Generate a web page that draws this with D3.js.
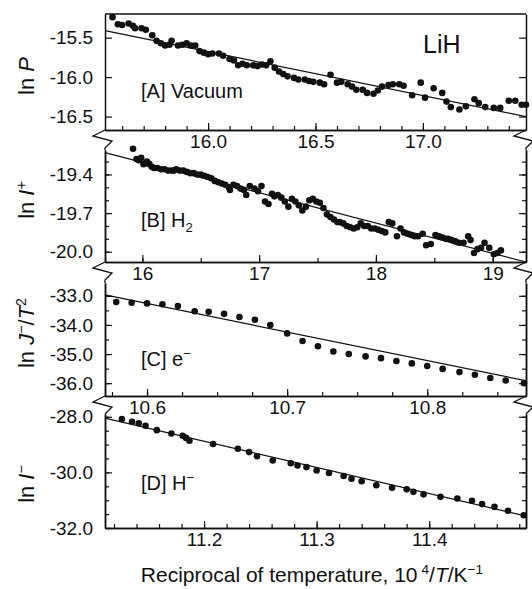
<!DOCTYPE html>
<html>
<head>
<meta charset="utf-8">
<script src="https://cdn.jsdelivr.net/npm/d3@7"></script>
<style>
  body { margin: 0; background: #fff; }
  text { font-family: "Liberation Sans", Arial, sans-serif; fill: #111; }
</style>
</head>
<body>
<div id="chart"></div>
<script>
// [A] vacuum: 10^4/T, ln P
const vacuum = [
  [15.555,-15.24],[15.58,-15.33],[15.60,-15.34],[15.63,-15.32],[15.65,-15.35],[15.66,-15.38],
  [15.69,-15.38],[15.71,-15.40],[15.74,-15.47],[15.76,-15.54],[15.78,-15.57],[15.80,-15.60],
  [15.82,-15.59],[15.83,-15.54],[15.86,-15.60],[15.88,-15.59],[15.90,-15.57],[15.92,-15.60],
  [15.94,-15.60],[15.96,-15.67],[15.98,-15.69],[16.00,-15.71],[16.02,-15.70],[16.05,-15.70],
  [16.07,-15.73],[16.10,-15.77],[16.12,-15.79],[16.14,-15.85],[16.16,-15.83],[16.18,-15.85],
  [16.21,-15.85],[16.23,-15.86],[16.25,-15.84],[16.27,-15.85],[16.29,-15.80],[16.31,-15.88],
  [16.33,-15.93],[16.35,-15.96],[16.37,-15.99],[16.40,-16.01],[16.42,-16.03],[16.45,-16.03],
  [16.47,-16.05],[16.49,-16.06],[16.52,-16.07],[16.54,-16.09],[16.57,-15.97],[16.60,-16.07],
  [16.62,-16.06],[16.65,-16.09],[16.67,-16.12],[16.69,-16.16],[16.72,-16.16],[16.74,-16.20],
  [16.77,-16.21],[16.79,-16.17],[16.81,-16.12],[16.84,-16.10],[16.86,-16.09],[16.89,-16.09],
  [16.91,-16.11],[16.95,-16.23],[16.99,-16.07],[17.01,-16.26],[17.05,-16.14],[17.09,-16.20],
  [17.11,-16.31],[17.13,-16.38],[17.17,-16.41],[17.20,-16.37],[17.24,-16.28],[17.26,-16.33],
  [17.29,-16.38],[17.33,-16.39],[17.36,-16.39],[17.40,-16.30],[17.43,-16.30],[17.46,-16.35],
  [17.48,-16.35]
];
const vacuumFit = [[15.52,-15.41],[17.48,-16.50]];

// [B] H2: 10^4/T, ln I+
const hydrogen = [
  [15.92,-19.20],[15.95,-19.28],[15.97,-19.29],[15.99,-19.27],[16.01,-19.32],[16.03,-19.31],
  [16.04,-19.30],[16.06,-19.32],[16.08,-19.34],[16.10,-19.35],[16.13,-19.35],[16.16,-19.36],
  [16.19,-19.36],[16.22,-19.37],[16.25,-19.37],[16.27,-19.37],[16.29,-19.36],[16.32,-19.37],
  [16.35,-19.37],[16.38,-19.38],[16.41,-19.39],[16.44,-19.39],[16.47,-19.40],[16.50,-19.40],
  [16.53,-19.41],[16.56,-19.42],[16.59,-19.43],[16.62,-19.45],[16.65,-19.46],[16.68,-19.47],
  [16.71,-19.48],[16.74,-19.50],[16.75,-19.52],[16.78,-19.48],[16.81,-19.49],[16.84,-19.51],
  [16.87,-19.52],[16.89,-19.56],[16.92,-19.49],[16.96,-19.51],[16.99,-19.53],[17.02,-19.49],
  [17.05,-19.61],[17.08,-19.63],[17.11,-19.55],[17.13,-19.57],[17.16,-19.56],[17.19,-19.58],
  [17.22,-19.61],[17.25,-19.65],[17.28,-19.59],[17.31,-19.61],[17.34,-19.64],[17.37,-19.68],
  [17.40,-19.65],[17.43,-19.60],[17.46,-19.59],[17.49,-19.61],[17.52,-19.62],[17.55,-19.66],
  [17.58,-19.71],[17.61,-19.73],[17.64,-19.75],[17.67,-19.77],[17.69,-19.77],[17.72,-19.78],
  [17.75,-19.80],[17.78,-19.81],[17.81,-19.82],[17.84,-19.81],[17.87,-19.78],[17.90,-19.80],
  [17.93,-19.80],[17.96,-19.82],[17.99,-19.82],[18.02,-19.83],[18.05,-19.84],[18.08,-19.85],
  [18.11,-19.77],[18.14,-19.78],[18.18,-19.88],[18.21,-19.82],[18.24,-19.85],[18.27,-19.86],
  [18.30,-19.87],[18.33,-19.88],[18.36,-19.88],[18.40,-19.86],[18.43,-19.95],[18.47,-19.94],
  [18.51,-19.87],[18.54,-19.88],[18.57,-19.89],[18.60,-19.90],[18.62,-19.90],[18.65,-19.91],
  [18.68,-19.92],[18.71,-19.93],[18.75,-19.93],[18.79,-19.88],[18.81,-19.91],[18.84,-20.01],
  [18.87,-19.98],[18.90,-19.97],[18.93,-19.93],[18.97,-19.97],[19.01,-20.02],[19.04,-20.01],
  [19.07,-19.99]
];
const hydrogenFit = [[15.68,-19.23],[19.285,-20.08]];

// [C] e-: 10^4/T, ln J-/T^2
const electron = [
  [10.578,-33.21],[10.589,-33.24],[10.600,-33.26],[10.611,-33.29],[10.622,-33.35],[10.634,-33.53],
  [10.644,-33.55],[10.655,-33.62],[10.666,-33.73],[10.677,-33.82],[10.688,-34.00],[10.700,-34.29],
  [10.711,-34.55],[10.722,-34.73],[10.733,-34.91],[10.744,-35.00],[10.756,-35.08],[10.767,-35.14],
  [10.778,-35.24],[10.789,-35.32],[10.800,-35.41],[10.811,-35.51],[10.823,-35.62],[10.834,-35.71],
  [10.845,-35.82],[10.856,-35.91],[10.869,-36.00]
];
const electronFit = [[10.570,-32.97],[10.871,-35.92]];

// [D] H-: 10^4/T, ln I-
const hydride = [
  [11.127,-28.08],[11.136,-28.18],[11.142,-28.23],[11.148,-28.32],[11.158,-28.48],[11.171,-28.60],
  [11.181,-28.68],[11.184,-28.76],[11.187,-28.86],[11.208,-28.98],[11.230,-29.15],[11.240,-29.27],
  [11.247,-29.42],[11.261,-29.57],[11.277,-29.67],[11.283,-29.75],[11.291,-29.81],[11.300,-29.93],
  [11.311,-30.02],[11.324,-30.13],[11.331,-30.23],[11.340,-30.32],[11.353,-30.46],[11.367,-30.55],
  [11.380,-30.61],[11.386,-30.70],[11.395,-30.79],[11.410,-30.88],[11.425,-30.94],[11.438,-31.02],
  [11.447,-31.14],[11.458,-31.24],[11.470,-31.38],[11.484,-31.54]
];
const hydrideFit = [[11.112,-28.05],[11.486,-31.57]];

// tick labels
const xTicksA = [16.0, 16.5, 17.0];
const xTicksB = [16, 17, 18, 19];
const xTicksC = [10.6, 10.7, 10.8];
const xTicksD = [11.2, 11.3, 11.4];
const yTicksA = [-15.5, -16.0, -16.5];
const yTicksB = [-19.4, -19.7, -20.0];
const yTicksC = [-33.0, -34.0, -35.0, -36.0];
const yTicksD = [-28.0, -30.0, -32.0];

const w = 532;
const h = 589;
const left = 105;
const right = 526;

const panels = [
  {data: vacuum, fit: vacuumFit, xDom: [15.52, 17.48], yDom: [-16.67, -15.2], top: 14, bottom: 130,
   xTicks: xTicksA, xMinor: 0.1, xDec: 1, yTicks: yTicksA, yMinor: null,
   tag: [['[A] Vacuum']], tagY: 98, ttl: [['ln '], ['P', 'i']], ttlY: 76},
  {data: hydrogen, fit: hydrogenFit, xDom: [15.68, 19.285], yDom: [-20.08, -19.21], top: 150, bottom: 262,
   xTicks: xTicksB, xMinor: 0.5, xDec: 0, yTicks: yTicksB, yMinor: 0.1,
   tag: [['[B] H'], ['2', 'sub']], tagY: 227, ttl: [['ln '], ['I', 'i'], ['+', 'sup']], ttlY: 200},
  {data: electron, fit: electronFit, xDom: [10.570, 10.8705], yDom: [-36.44, -32.56], top: 283, bottom: 396,
   xTicks: xTicksC, xMinor: 0.025, xDec: 1, yTicks: yTicksC, yMinor: 0.5,
   tag: [['[C] e'], ['\u2212', 'sup']], tagY: 366, ttl: [['ln '], ['J', 'i'], ['\u2212', 'sup'], ['/', 'base'], ['T', 'i'], ['2', 'sup']], ttlY: 333},
  {data: hydride, fit: hydrideFit, xDom: [11.112, 11.486], yDom: [-32.0, -27.9], top: 414, bottom: 528,
   xTicks: xTicksD, xMinor: 0.02, xDec: 1, yTicks: yTicksD, yMinor: 0.5,
   tag: [['[D] H'], ['\u2212', 'sup']], tagY: 490, ttl: [['ln '], ['I', 'i'], ['\u2212', 'sup']], ttlY: 484}
];

const svg = d3.select('#chart')
  .append('svg')
  .attr('width', w)
  .attr('height', h);

// write runs of text with italics, super- and subscripts
function richText(sel, runs, size) {
  let shift = 0;
  runs.forEach(r => {
    const kind = r[1] || 'base';
    let target = 0;
    if (kind === 'sup') target = -0.38 * size;
    if (kind === 'sub') target = 0.25 * size;
    const t = sel.append('tspan')
      .attr('dy', target - shift)
      .attr('font-size', kind === 'sup' || kind === 'sub' ? size * 0.65 : size)
      .text(r[0]);
    if (r[2]) t.attr('dx', r[2]);
    if (kind === 'i') t.attr('font-style', 'italic');
    shift = target;
  });
}

function minorTicks(dom, step) {
  const lo = Math.ceil(dom[0] / step - 1e-6);
  const hi = Math.floor(dom[1] / step + 1e-6);
  return d3.range(lo, hi + 1).map(i => +(i * step).toFixed(4));
}

panels.forEach((p, i) => {
  const x = d3.scaleLinear().domain(p.xDom).range([left, right]);
  const y = d3.scaleLinear().domain(p.yDom).range([p.bottom, p.top]);
  const g = svg.append('g');

  // fit line
  g.append('path')
    .datum(p.fit)
    .attr('d', d3.line().x(d => x(d[0])).y(d => y(d[1])))
    .attr('fill', 'none')
    .attr('stroke', '#111')
    .attr('stroke-width', 1.2);

  // points
  g.selectAll('circle')
    .data(p.data)
    .enter()
    .append('circle')
    .attr('cx', d => x(d[0]))
    .attr('cy', d => y(d[1]))
    .attr('r', 3.3)
    .attr('fill', '#111');

  // minor ticks
  const xMin = d3.axisBottom(x).tickValues(minorTicks(p.xDom, p.xMinor)).tickSizeInner(-4).tickSizeOuter(0).tickFormat('');
  g.append('g').attr('transform', `translate(0,${p.bottom})`).call(xMin);
  if (p.yMinor) {
    const yMin = d3.axisLeft(y).tickValues(minorTicks(p.yDom, p.yMinor)).tickSizeInner(-4).tickSizeOuter(0).tickFormat('');
    g.append('g').attr('transform', `translate(${left},0)`).call(yMin);
    const yMinR = d3.axisRight(y).tickValues(minorTicks(p.yDom, p.yMinor)).tickSizeInner(-4).tickSizeOuter(0).tickFormat('');
    g.append('g').attr('transform', `translate(${right},0)`).call(yMinR);
  }

  // major axes
  const xAxis = d3.axisBottom(x).tickValues(p.xTicks).tickSizeInner(-7).tickSizeOuter(0)
    .tickPadding(5).tickFormat(d => d.toFixed(p.xDec));
  g.append('g')
    .attr('class', 'axis')
    .attr('transform', `translate(0,${p.bottom})`)
    .call(xAxis);

  const yAxis = d3.axisLeft(y).tickValues(p.yTicks).tickSizeInner(-7).tickSizeOuter(0)
    .tickPadding(12).tickFormat(d => d.toFixed(1));
  g.append('g')
    .attr('class', 'axis')
    .attr('transform', `translate(${left},0)`)
    .call(yAxis);

  const yAxisR = d3.axisRight(y).tickValues(p.yTicks).tickSizeInner(-7).tickSizeOuter(0).tickFormat('');
  g.append('g')
    .attr('transform', `translate(${right},0)`)
    .call(yAxisR);

  if (i === 0) {
    g.append('line')
      .attr('x1', left).attr('x2', right)
      .attr('y1', p.top).attr('y2', p.top)
      .attr('stroke', '#111').attr('stroke-width', 1.5);
  }

  // panel tag
  const tag = g.append('text')
    .attr('x', 141)
    .attr('y', p.tagY);
  richText(tag, p.tag, 20);

  // y title
  const ttl = g.append('text')
    .attr('transform', `translate(34,${p.ttlY}) rotate(-90)`)
    .attr('text-anchor', 'middle');
  richText(ttl, p.ttl, 22);

  // axis breaks between panels
  if (i < panels.length - 1) {
    const next = panels[i + 1];
    [left, right].forEach(bx => {
      g.append('path')
        .attr('d', `M${bx},${p.bottom} L${bx - 12},${p.bottom + 6} L${bx + 7},${p.bottom + 11} L${bx},${p.bottom + 18} L${bx},${next.top}`)
        .attr('fill', 'none')
        .attr('stroke', '#111')
        .attr('stroke-width', 1.3);
    });
  }
});

svg.selectAll('.domain').attr('stroke', '#111').attr('stroke-width', 1.5);
svg.selectAll('.tick line').attr('stroke', '#111').attr('stroke-width', 1.2);
svg.selectAll('.axis text')
  .attr('font-size', 19)
  .attr('font-family', '"Liberation Sans", Arial, sans-serif')
  .attr('fill', '#111');

svg.append('text')
  .attr('x', 423)
  .attr('y', 53)
  .attr('font-size', 25)
  .text('LiH');

// x title
const xt = svg.append('text')
  .attr('x', 312)
  .attr('y', 582)
  .attr('text-anchor', 'middle');
richText(xt, [['Reciprocal of temperature, 10'], ['4', 'sup', 4], ['/', 'base'], ['T', 'i'], ['/K', 'base'], ['\u22121', 'sup']], 21);
</script>
</body>
</html>
